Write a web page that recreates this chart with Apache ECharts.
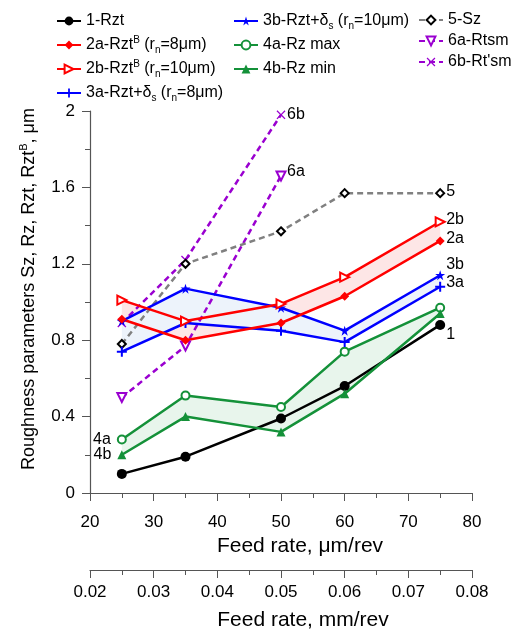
<!DOCTYPE html>
<html>
<head>
<meta charset="UTF-8">
<script src="https://cdn.jsdelivr.net/npm/echarts@6/dist/echarts.min.js"></script>
<style>
  body { margin: 0; background: #fff; }
  #chart { width: 515px; height: 633px; }
</style>
</head>
<body>
<div id="chart"></div>
<script>
// 进给量 μm/rev
const feed = [25, 35, 50, 60, 75]
const feedShort = [25, 35, 50]

// 各粗糙度参数, μm
const rzt = [0.10, 0.19, 0.39, 0.56, 0.88]
const rztB8 = [0.91, 0.80, 0.89, 1.03, 1.32]
const rztB10 = [1.01, 0.90, 0.99, 1.13, 1.42]
const rztDs8 = [0.74, 0.89, 0.85, 0.79, 1.08]
const rztDs10 = [0.90, 1.07, 0.97, 0.85, 1.14]
const rzMax = [0.28, 0.51, 0.45, 0.74, 0.97]
const rzMin = [0.20, 0.40, 0.32, 0.52, 0.94]
const sz = [0.78, 1.20, 1.37, 1.57, 1.57]
const rtsm = [0.50, 0.77, 1.66]
const rtsm2 = [0.89, 1.22, 1.98]

// 第二横轴刻度 mm/rev
const feedMm = [0.02, 0.03, 0.04, 0.05, 0.06, 0.07, 0.08]

const FONT = 'Liberation Sans'
const RED = '#ff0000', BLUE = '#0000ff', GREEN = '#149139', PURPLE = '#9a00d0', GRAY = '#808080'

const PLUS = 'path://M4,0H6V4H10V6H6V10H4V6H0V4H4Z'
const CROSS = 'path://M1,0L5,4L9,0L10,1L6,5L10,9L9,10L5,6L1,10L0,9L4,5L0,1Z'
const STAR = 'path://M5,0L6.2,3.6L10,3.6L6.9,5.8L8.1,9.5L5,7.2L1.9,9.5L3.1,5.8L0,3.6L3.8,3.6Z'

const pts = (xs, ys) => ys.map((y, i) => [xs[i], y])

function line(name, ys, color, symbol, opts = {}) {
  const xs = ys.length === 3 ? feedShort : feed
  return Object.assign({
    name,
    type: 'line',
    data: pts(xs, ys),
    symbol,
    symbolSize: 9,
    z: 3,
    lineStyle: { color, width: 2.5 },
    itemStyle: { color },
    animation: false
  }, opts)
}

// 两条线之间的填充多边形
function band(lower, upper, fill) {
  return {
    type: 'custom',
    silent: true,
    z: 1,
    data: [[feed[0], lower[0]]],
    renderItem: (params, api) => {
      const top = upper.map((y, i) => api.coord([feed[i], y]))
      const bottom = lower.map((y, i) => api.coord([feed[i], y])).reverse()
      return { type: 'polygon', shape: { points: top.concat(bottom) }, style: { fill } }
    },
    animation: false
  }
}

const endLab = (text, offset) => ({
  show: true, formatter: text, fontFamily: FONT, fontSize: 16, color: '#000', offset: offset || [0, 0], distance: 6
})

const legendNames = {
  '1-Rzt': '1-Rzt',
  '2a': '2a-Rzt{sup|B} (r{sub|n}=8μm)',
  '2b': '2b-Rzt{sup|B} (r{sub|n}=10μm)',
  '3a': '3a-Rzt+δ{sub|s} (r{sub|n}=8μm)',
  '3b': '3b-Rzt+δ{sub|s} (r{sub|n}=10μm)',
  '4a': '4a-Rz max',
  '4b': '4b-Rz min',
  '5': '5-Sz',
  '6a': '6a-Rtsm',
  '6b': "6b-Rt'sm"
}

const legendText = {
  fontFamily: FONT, fontSize: 16, color: '#000', lineHeight: 20,
  rich: {
    sup: { fontFamily: FONT, fontSize: 10, verticalAlign: 'top', lineHeight: 20 },
    sub: { fontFamily: FONT, fontSize: 10, verticalAlign: 'bottom', lineHeight: 15 }
  }
}

function legend(left, top, data, gap) {
  return {
    left, top, orient: 'vertical', data, itemGap: gap, itemWidth: 24, itemHeight: 11,
    textStyle: legendText, formatter: n => legendNames[n], selectedMode: false
  }
}

const series = [
  band(rztB8, rztB10, '#fde6e6'),
  band(rztDs8, rztDs10, '#edf3fb'),
  band(rzMin, rzMax, '#e8f5ec'),
  line('6b', rtsm2, PURPLE, CROSS, { lineStyle: { color: PURPLE, width: 2.5, type: [6, 4] }, endLabel: endLab('6b') }),
  line('6a', rtsm, PURPLE, 'emptyTriangle', { symbolRotate: 180, lineStyle: { color: PURPLE, width: 2.5, type: [6, 4] }, endLabel: endLab('6a', [0, -4]) }),
  line('5', sz, '#000', 'emptyDiamond', { symbolSize: 8, lineStyle: { color: GRAY, width: 2.5, type: [6, 4] }, itemStyle: { color: '#000', borderWidth: 1.5 }, endLabel: endLab('5', [0, -2]) }),
  line('1-Rzt', rzt, '#000', 'circle', { symbolSize: 10, endLabel: endLab('1', [0, 10]) }),
  line('4a', rzMax, GREEN, 'emptyCircle', { symbolSize: 8 }),
  line('4b', rzMin, GREEN, 'triangle', { symbolSize: 9 }),
  line('3a', rztDs8, BLUE, PLUS, { symbolSize: 10, endLabel: endLab('3a', [0, -4]) }),
  line('3b', rztDs10, BLUE, STAR, { symbolSize: 10, endLabel: endLab('3b', [0, -11]) }),
  line('2a', rztB8, RED, 'diamond', { symbolSize: 9, endLabel: endLab('2a', [0, -2]) }),
  line('2b', rztB10, RED, 'emptyTriangle', { symbolRotate: -90, endLabel: endLab('2b', [0, -2]) })
]

// 4a、4b 标签放在首点左侧
series.forEach(s => {
  if (s.name === '4a' || s.name === '4b') {
    s.data[0] = {
      value: s.data[0],
      label: { show: true, position: 'left', distance: 6, formatter: s.name, fontFamily: FONT, fontSize: 16, color: '#000' }
    }
  }
})

const axisColor = '#555'
const tickFont = { fontFamily: FONT, fontSize: 17, color: '#000' }
const nameFont = { fontFamily: FONT, fontSize: 21, color: '#000', padding: [0, 0, 0, 38] }

const chart = echarts.init(document.getElementById('chart'))
chart.setOption({
  backgroundColor: '#fff',
  animation: false,
  legend: [
    legend(51, 6, ['1-Rzt', '2a', '2b', '3a'], 4),
    legend(228, 6, ['3b', '4a', '4b'], 4),
    legend(413, 5, ['5', '6a', '6b'], 1)
  ],
  grid: { left: 90, right: 43, top: 111, bottom: 140, containLabel: false, outerBoundsMode: 'none' },
  xAxis: [
    {
      type: 'value', min: 20, max: 80, interval: 10,
      name: 'Feed rate, μm/rev', nameLocation: 'middle', nameGap: 43,
      nameTextStyle: nameFont,
      axisLine: { onZero: false, lineStyle: { color: axisColor, width: 1.2 } },
      axisTick: { length: 8, lineStyle: { color: axisColor } },
      minorTick: { show: true, splitNumber: 2, length: 5, lineStyle: { color: axisColor } },
      axisLabel: Object.assign({ margin: 21 }, tickFont),
      splitLine: { show: false }
    },
    {
      type: 'value', min: 0.02, max: 0.08, interval: 0.01, position: 'bottom', offset: 77,
      name: 'Feed rate, mm/rev', nameLocation: 'middle', nameGap: 40,
      nameTextStyle: Object.assign({}, nameFont, { padding: [0, 0, 0, 44] }),
      axisLine: { onZero: false, lineStyle: { color: axisColor, width: 1.2 } },
      axisTick: { length: 8, lineStyle: { color: axisColor } },
      minorTick: { show: true, splitNumber: 2, length: 5, lineStyle: { color: axisColor } },
      axisLabel: Object.assign({ margin: 14, formatter: v => feedMm.find(t => Math.abs(t - v) < 1e-6)?.toFixed(2) ?? '' }, tickFont),
      splitLine: { show: false }
    }
  ],
  yAxis: {
    type: 'value', min: 0, max: 2, interval: 0.4,
    name: 'Roughness parameters Sz, Rz, Rzt, Rzt{sup|B}, μm', nameLocation: 'middle', nameGap: 50,
    nameTextStyle: {
      fontFamily: FONT, fontSize: 18, color: '#000', lineHeight: 22, padding: [0, 0, 0, 26],
      rich: { sup: { fontFamily: FONT, fontSize: 11, verticalAlign: 'top', lineHeight: 22 } }
    },
    axisLine: { show: true, lineStyle: { color: axisColor, width: 1.2 } },
    axisTick: { length: 8, lineStyle: { color: axisColor } },
    minorTick: { show: true, splitNumber: 2, length: 5, lineStyle: { color: axisColor } },
    axisLabel: Object.assign({ margin: 15, formatter: v => (v === 0 || v === 2) ? String(v) : v.toFixed(1) }, tickFont),
    splitLine: { show: false }
  },
  series
})
</script>
</body>
</html>
